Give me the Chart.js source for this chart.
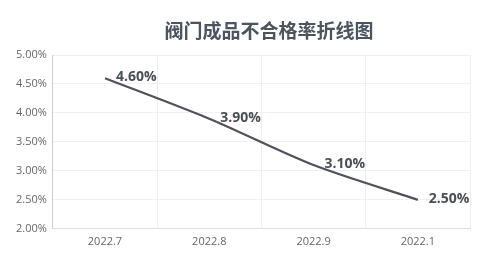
<!DOCTYPE html>
<html>
<head>
<meta charset="utf-8">
<script src="https://cdn.jsdelivr.net/npm/chart.js@4"></script>
<style>
html,body{margin:0;padding:0;background:#fff;}
#wrap{width:500px;height:261px;position:relative;}
</style>
</head>
<body>
<div id="wrap"><canvas id="c"></canvas></div>
<script>
const categories = ['2022.7', '2022.8', '2022.9', '2022.1'];
const rates = [4.6, 3.9, 3.1, 2.5];
const yTicks = [2.0, 2.5, 3.0, 3.5, 4.0, 4.5, 5.0];
const titleText = '阀门成品不合格率折线图';

const titlePlugin = {
  id: 'customTitle',
  afterDraw(chart) {
    const ctx = chart.ctx;
    ctx.save();
    ctx.font = 'bold 19px "Noto Sans CJK SC", sans-serif';
    ctx.fillStyle = '#4a5560';
    ctx.textAlign = 'center';
    ctx.textBaseline = 'middle';
    ctx.fillText(titleText, 269, 31);
    ctx.restore();
  }
};

const labelPlugin = {
  id: 'valueLabels',
  afterDatasetsDraw(chart) {
    const ctx = chart.ctx;
    const meta = chart.getDatasetMeta(0);
    ctx.save();
    ctx.font = 'bold 14px "Open Sans", sans-serif';
    ctx.fillStyle = '#4a4f57';
    ctx.textAlign = 'left';
    ctx.textBaseline = 'middle';
    meta.data.forEach((pt, i) => {
      ctx.fillText(rates[i].toFixed(2) + '%', pt.x + 11, pt.y - 1);
    });
    ctx.restore();
  }
};

new Chart(document.getElementById('c'), {
  type: 'line',
  data: {
    labels: categories,
    datasets: [{
      data: rates,
      borderColor: '#52505c',
      borderWidth: 2.2,
      pointRadius: 0,
      tension: 0.28,
      fill: false
    }]
  },
  options: {
    responsive: true,
    maintainAspectRatio: false,
    animation: false,
    layout: { padding: { left: 10, right: 30, top: 55, bottom: 7 } },
    plugins: {
      legend: { display: false },
      tooltip: { enabled: false },
      title: { display: false }
    },
    scales: {
      x: {
        offset: true,
        grid: { offset: true, color: '#eeeeee', drawTicks: false },
        border: { color: '#dddddd' },
        ticks: { color: '#666', font: { family: '"Open Sans", sans-serif', size: 11 }, padding: 6 }
      },
      y: {
        min: 2, max: 5,
        afterBuildTicks(axis) { axis.ticks = yTicks.map(v => ({ value: v })); },
        grid: { color: '#f0f0f0', drawTicks: false },
        border: { color: '#cccccc' },
        ticks: {
          color: '#666',
          font: { family: '"Open Sans", sans-serif', size: 11 },
          padding: 6,
          callback: v => v.toFixed(2) + '%'
        }
      }
    }
  },
  plugins: [labelPlugin, titlePlugin]
});
</script>
</body>
</html>
